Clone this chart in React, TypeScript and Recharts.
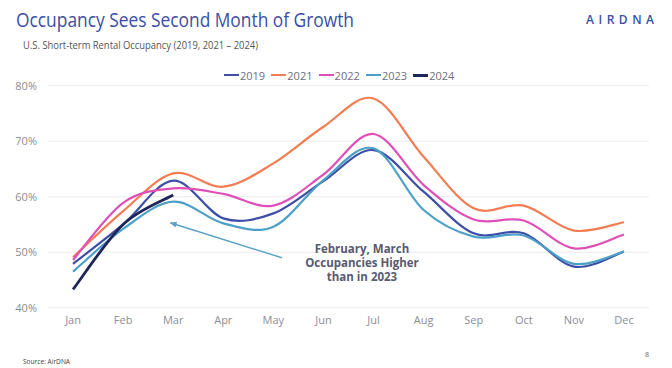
import React from "react";
import { LineChart, Line, XAxis, YAxis, CartesianGrid, ReferenceLine } from "recharts";

const months = ["Jan", "Feb", "Mar", "Apr", "May", "Jun", "Jul", "Aug", "Sep", "Oct", "Nov", "Dec"];
const occ2019 = [47.9, 55.0, 62.9, 56.1, 57.0, 62.8, 68.4, 60.9, 53.4, 53.4, 47.4, 50.1];
const occ2021 = [49.1, 57.4, 64.2, 61.8, 66.0, 72.6, 77.7, 67.2, 57.9, 58.4, 53.9, 55.4];
const occ2022 = [48.6, 58.9, 61.5, 60.5, 58.4, 64.0, 71.3, 62.1, 55.9, 55.7, 50.7, 53.2];
const occ2023 = [46.5, 54.2, 59.1, 55.2, 54.6, 63.0, 68.7, 57.6, 52.8, 53.0, 47.9, 50.1];
const occ2024 = [43.3, 55.0, 60.3];
const yTicks = [40, 50, 60, 70, 80];

const series = [
    { key: "y2019", name: "2019", color: "#3d4fa6", width: 2.2 },
    { key: "y2021", name: "2021", color: "#f47c52", width: 2.2 },
    { key: "y2022", name: "2022", color: "#e04fb8", width: 2.2 },
    { key: "y2023", name: "2023", color: "#4ca0c8", width: 2.2 },
    { key: "y2024", name: "2024", color: "#1e2658", width: 2.8 },
];

const data = months.map((m, i) => ({
    i,
    month: m,
    y2019: occ2019[i],
    y2021: occ2021[i],
    y2022: occ2022[i],
    y2023: occ2023[i],
    y2024: i < occ2024.length ? occ2024[i] : null,
}));

// excel-style smoothing (catmull-rom through the points)
function smoothCurve(context: any) {
    let pts: number[][] = [];
    return {
        areaStart() {},
        areaEnd() {},
        lineStart() {
            pts = [];
        },
        point(x: number, y: number) {
            pts.push([+x, +y]);
        },
        lineEnd() {
            const n = pts.length;
            if (!n) return;
            context.moveTo(pts[0][0], pts[0][1]);
            for (let k = 0; k < n - 1; k++) {
                const p0 = pts[Math.max(k - 1, 0)];
                const p1 = pts[k];
                const p2 = pts[k + 1];
                const p3 = pts[Math.min(k + 2, n - 1)];
                context.bezierCurveTo(
                    p1[0] + (p2[0] - p0[0]) / 6,
                    p1[1] + (p2[1] - p0[1]) / 6,
                    p2[0] - (p3[0] - p1[0]) / 6,
                    p2[1] - (p3[1] - p1[1]) / 6,
                    p2[0],
                    p2[1]
                );
            }
        },
    };
}

function ArrowShape(props: any) {
    const { x1, y1, x2, y2 } = props;
    const ang = Math.atan2(y1 - y2, x1 - x2);
    const len = 7;
    const spread = 0.45;
    const ax = x1 - len * Math.cos(ang - spread);
    const ay = y1 - len * Math.sin(ang - spread);
    const bx = x1 - len * Math.cos(ang + spread);
    const by = y1 - len * Math.sin(ang + spread);
    return (
        <g>
            <line x1={x1} y1={y1} x2={x2} y2={y2} stroke="#5aa2c8" strokeWidth={1.4} />
            <polygon points={`${x1},${y1} ${ax},${ay} ${bx},${by}`} fill="#5aa2c8" />
        </g>
    );
}

function SeriesLegend() {
    return (
        <div style={{ position: "absolute", left: 0, top: 67, width: 672, height: 16 }}>
            {series.map((s, idx) => (
                <div
                    key={s.key}
                    style={{ position: "absolute", left: 224 + idx * 47.3, top: 0, display: "flex", alignItems: "center", height: 16 }}
                >
                    <div style={{ width: 15, height: s.key === "y2024" ? 3 : 2, background: s.color }} />
                    <span style={{ marginLeft: 1, fontSize: 11, color: "#6e6e82", fontFamily: "'Open Sans'" }}>{s.name}</span>
                </div>
            ))}
        </div>
    );
}

export default function App() {
    return (
        <div style={{ position: "absolute", left: 0, top: 0, width: 672, height: 368, background: "#fff", fontFamily: "'Open Sans'" }}>
            <LineChart
                width={672}
                height={368}
                data={data}
                margin={{ top: 85.7, right: 23, left: 0, bottom: 0 }}
            >
                <CartesianGrid vertical={false} stroke="#ebebf0" />
                <XAxis
                    dataKey="i"
                    type="number"
                    domain={[-0.5, 11.5]}
                    ticks={months.map((_, i) => i)}
                    tickFormatter={(v: number) => months[v]}
                    axisLine={false}
                    tickLine={false}
                    height={60.3}
                    tick={{ fill: "#8c8c99", fontSize: 11, fontFamily: "'Open Sans'" }}
                    dy={0}
                />
                <YAxis
                    domain={[40, 80]}
                    ticks={yTicks}
                    tickFormatter={(v: number) => `${v}%`}
                    axisLine={false}
                    tickLine={false}
                    width={48}
                    tick={{ fill: "#8c8c99", fontSize: 11, fontFamily: "'Open Sans'" }}
                    dx={-3}
                />
                <ReferenceLine
                    segment={[{ x: 1.94, y: 55.3 }, { x: 4.17, y: 49.0 }]}
                    shape={<ArrowShape />}
                    ifOverflow="visible"
                />
                {series.map((s) => (
                    <Line
                        key={s.key}
                        dataKey={s.key}
                        name={s.name}
                        type={smoothCurve as any}
                        stroke={s.color}
                        strokeWidth={s.width}
                        dot={false}
                        activeDot={false}
                        isAnimationActive={false}
                    />
                ))}
            </LineChart>

            <SeriesLegend />

            <svg width={672} height={368} style={{ position: "absolute", left: 0, top: 0, pointerEvents: "none" }}>
                <text x={16} y={26.5} fontSize={20} fill="#3a4ea3" textLength={338} lengthAdjust="spacingAndGlyphs">
                    Occupancy Sees Second Month of Growth
                </text>
                <text x={23} y={49} fontSize={11} fill="#555" textLength={235} lengthAdjust="spacingAndGlyphs">
                    U.S. Short-term Rental Occupancy (2019, 2021 – 2024)
                </text>
                <text x={586} y={23.5} fontSize={12} fontWeight={600} fill="#3a4ea3" textLength={68} lengthAdjust="spacing">
                    AIRDNA
                </text>
                <g fontSize={11.5} fontWeight={700} fill="#585a70" textAnchor="middle">
                    <text x={362} y={252.5}>February, March</text>
                    <text x={362} y={266.8}>Occupancies Higher</text>
                    <text x={362} y={281}>than in 2023</text>
                </g>
                <text x={23} y={364} fontSize={7.5} fill="#444" textLength={47} lengthAdjust="spacingAndGlyphs">
                    Source: AirDNA
                </text>
                <text x={645} y={357} fontSize={7} fill="#666">
                    8
                </text>
            </svg>
        </div>
    );
}
